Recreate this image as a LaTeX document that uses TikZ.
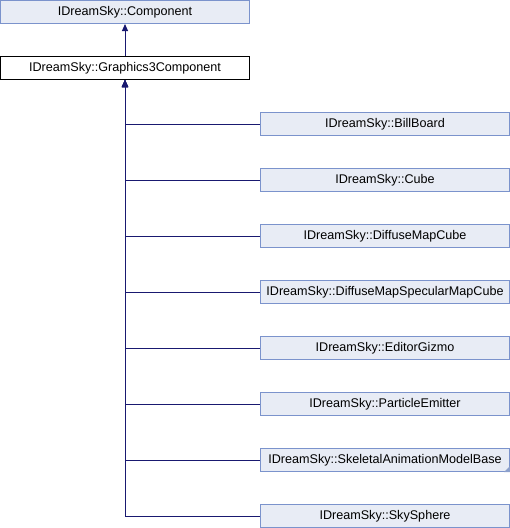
\documentclass[tikz,border=0pt]{standalone}
\usepackage{fontspec}
\setmainfont{Liberation Sans}
\usetikzlibrary{arrows.meta}
\definecolor{edgeblue}{HTML}{191970}
\definecolor{boxfill}{HTML}{E8ECF5}
\definecolor{boxline}{HTML}{7B93CC}
\definecolor{morecorner}{HTML}{8CA0CC}
\begin{document}
\begin{tikzpicture}[x = 1pt, y = -1pt]
			    \tikzstyle{edge}=[draw,line width = 1pt,edgeblue,{Triangle[length=7pt,width=6pt]}-]
			    \tikzstyle{cls}=[draw=boxline,fill=boxfill,line width = 1pt,rectangle,minimum width=249pt,minimum height=23pt,inner sep=0pt,font=\fontsize{12.6}{14}\selectfont]
			    \tikzstyle{current}=[cls,draw=black,fill=white]
			    \useasboundingbox (0,0) rectangle (510,528);
			    \node[cls] (comp) at (125,12) {IDreamSky::Component};
			    \node[current] (gfx) at (125,68) {IDreamSky::Graphics3Component};
			    \node[cls] (bill) at (385,124) {IDreamSky::BillBoard};
			    \node[cls] (cube) at (385,180) {IDreamSky::Cube};
			    \node[cls] (dmc) at (385,236) {IDreamSky::DiffuseMapCube};
			    \node[cls] (dmsmc) at (385,292) {IDreamSky::DiffuseMapSpecularMapCube};
			    \node[cls] (gizmo) at (385,348) {IDreamSky::EditorGizmo};
			    \node[cls] (emit) at (385,404) {IDreamSky::ParticleEmitter};
			    \node[cls] (skel) at (385,460) {IDreamSky::SkeletalAnimationModelBase};
			    \node[cls] (sky) at (385,516) {IDreamSky::SkySphere};
			    \fill[morecorner] (skel.south east) -- ++(-6,0) -- ++(6,-6) -- cycle;
			    \draw[edge] (comp) -- (gfx);
			    \foreach \c in {bill,cube,dmc,dmsmc,gizmo,emit,skel,sky}
			        \draw[edge] (gfx.south) |- (\c.west);
			\end{tikzpicture}
\end{document}
